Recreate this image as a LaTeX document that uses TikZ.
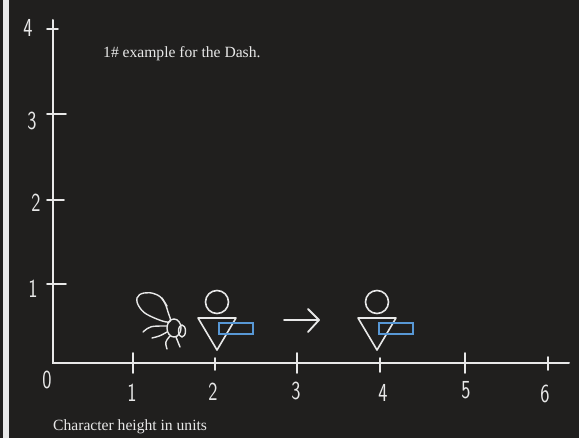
\documentclass[tikz,border=0pt]{standalone}
\usepackage{fontspec}
\setmainfont{Liberation Serif}
\definecolor{board}{RGB}{32,31,30}
\definecolor{chalk}{RGB}{232,232,232}
\definecolor{tagblue}{RGB}{88,152,214}
\begin{document}
\begin{tikzpicture}[x=1pt,y=-1pt,
  axisline/.style={chalk,line width=2pt,line cap=round},
  tickline/.style={chalk,line width=1.8pt,line cap=round},
  sketch/.style={chalk,line width=1.4pt,line cap=round,line join=round},
  digit/.style={text=chalk,inner sep=0pt,xscale=0.75,font=\fontsize{26}{26}\selectfont\sffamily},
  caption/.style={text=chalk,inner sep=0pt,anchor=base west,font=\fontsize{15.6}{18}\selectfont},
  person/.pic={
    \draw[sketch,line width=1.6pt] (0,-16) circle (11.5);
    \draw[sketch,line width=1.6pt] (-19,0) -- (19,0) -- (0,32) -- cycle;
    \draw[tagblue,line width=2pt] (2,5) rectangle (36,16);
  }]
% board and frame strip
\fill[board] (0,0) rectangle (579,438);
\fill[chalk] (3.3,0) rectangle (9.3,438);
\useasboundingbox (0,0) rectangle (579,438);

% axes
\coordinate (origin) at (53,363);
\coordinate (ytop) at (53,20);
\coordinate (xend) at (569,363);
\draw[axisline] (ytop) -- (origin) -- (xend);

% x ticks
\foreach \x/\a/\b in {133/353/373, 215/358/370, 297/353/373, 380/358/372, 465/353/373, 548/357/370}
  \draw[tickline] (\x,\a) -- (\x,\b);
% y ticks
\foreach \y/\a in {29/58, 114/66, 200/64, 284/66}
  \draw[tickline] (47,\y) -- (\a,\y);

% axis numbers
\node[digit] (n0) at (47,380) {0};
\node[digit] (x1) at (132,393) {1};
\node[digit] (x2) at (213,392) {2};
\node[digit] (x3) at (296,391) {3};
\node[digit] (x4) at (383,393) {4};
\node[digit] (x5) at (466,390) {5};
\node[digit] (x6) at (545,394) {6};
\node[digit] (y1) at (33,289) {1};
\node[digit] (y2) at (36,203) {2};
\node[digit] (y3) at (32,121) {3};
\node[digit] (y4) at (28,28) {4};

% captions
\node[caption] (title) at (103,58) {1\# example for the Dash.};
\node[caption] (xlabel) at (53,431) {Character height in units};

% the bee
\draw[sketch] plot[smooth cycle,tension=0.7] coordinates
  {(169,322) (150,316) (140,308) (137,298) (144,293) (155,294) (163,300) (168,312)};
\draw[sketch] (162,298) -- (167,306);
\draw[sketch] (174,328) ellipse (7 and 9);
\draw[sketch] (182,331) ellipse (3.5 and 6);
\draw[sketch] (143,332) .. controls (150,326) .. (167,326);
\draw[sketch] (152,338) .. controls (160,336) .. (167,332);
\draw[sketch] (167,349) .. controls (165,342) .. (170,336);
\draw[sketch] (180,347) .. controls (178,342) .. (176,337);

% the two people
\pic (p1) at (217,318) {person};
\pic (p2) at (377,318) {person};

% arrow between them
\coordinate (arrA) at (284,320);
\coordinate (arrB) at (319,320);
\coordinate (barbU) at (308,309);
\coordinate (barbD) at (308,332);
\draw[sketch,line width=1.8pt] (arrA) -- (arrB);
\draw[sketch,line width=1.8pt] (barbU) -- (arrB) -- (barbD);
\end{tikzpicture}
\end{document}
